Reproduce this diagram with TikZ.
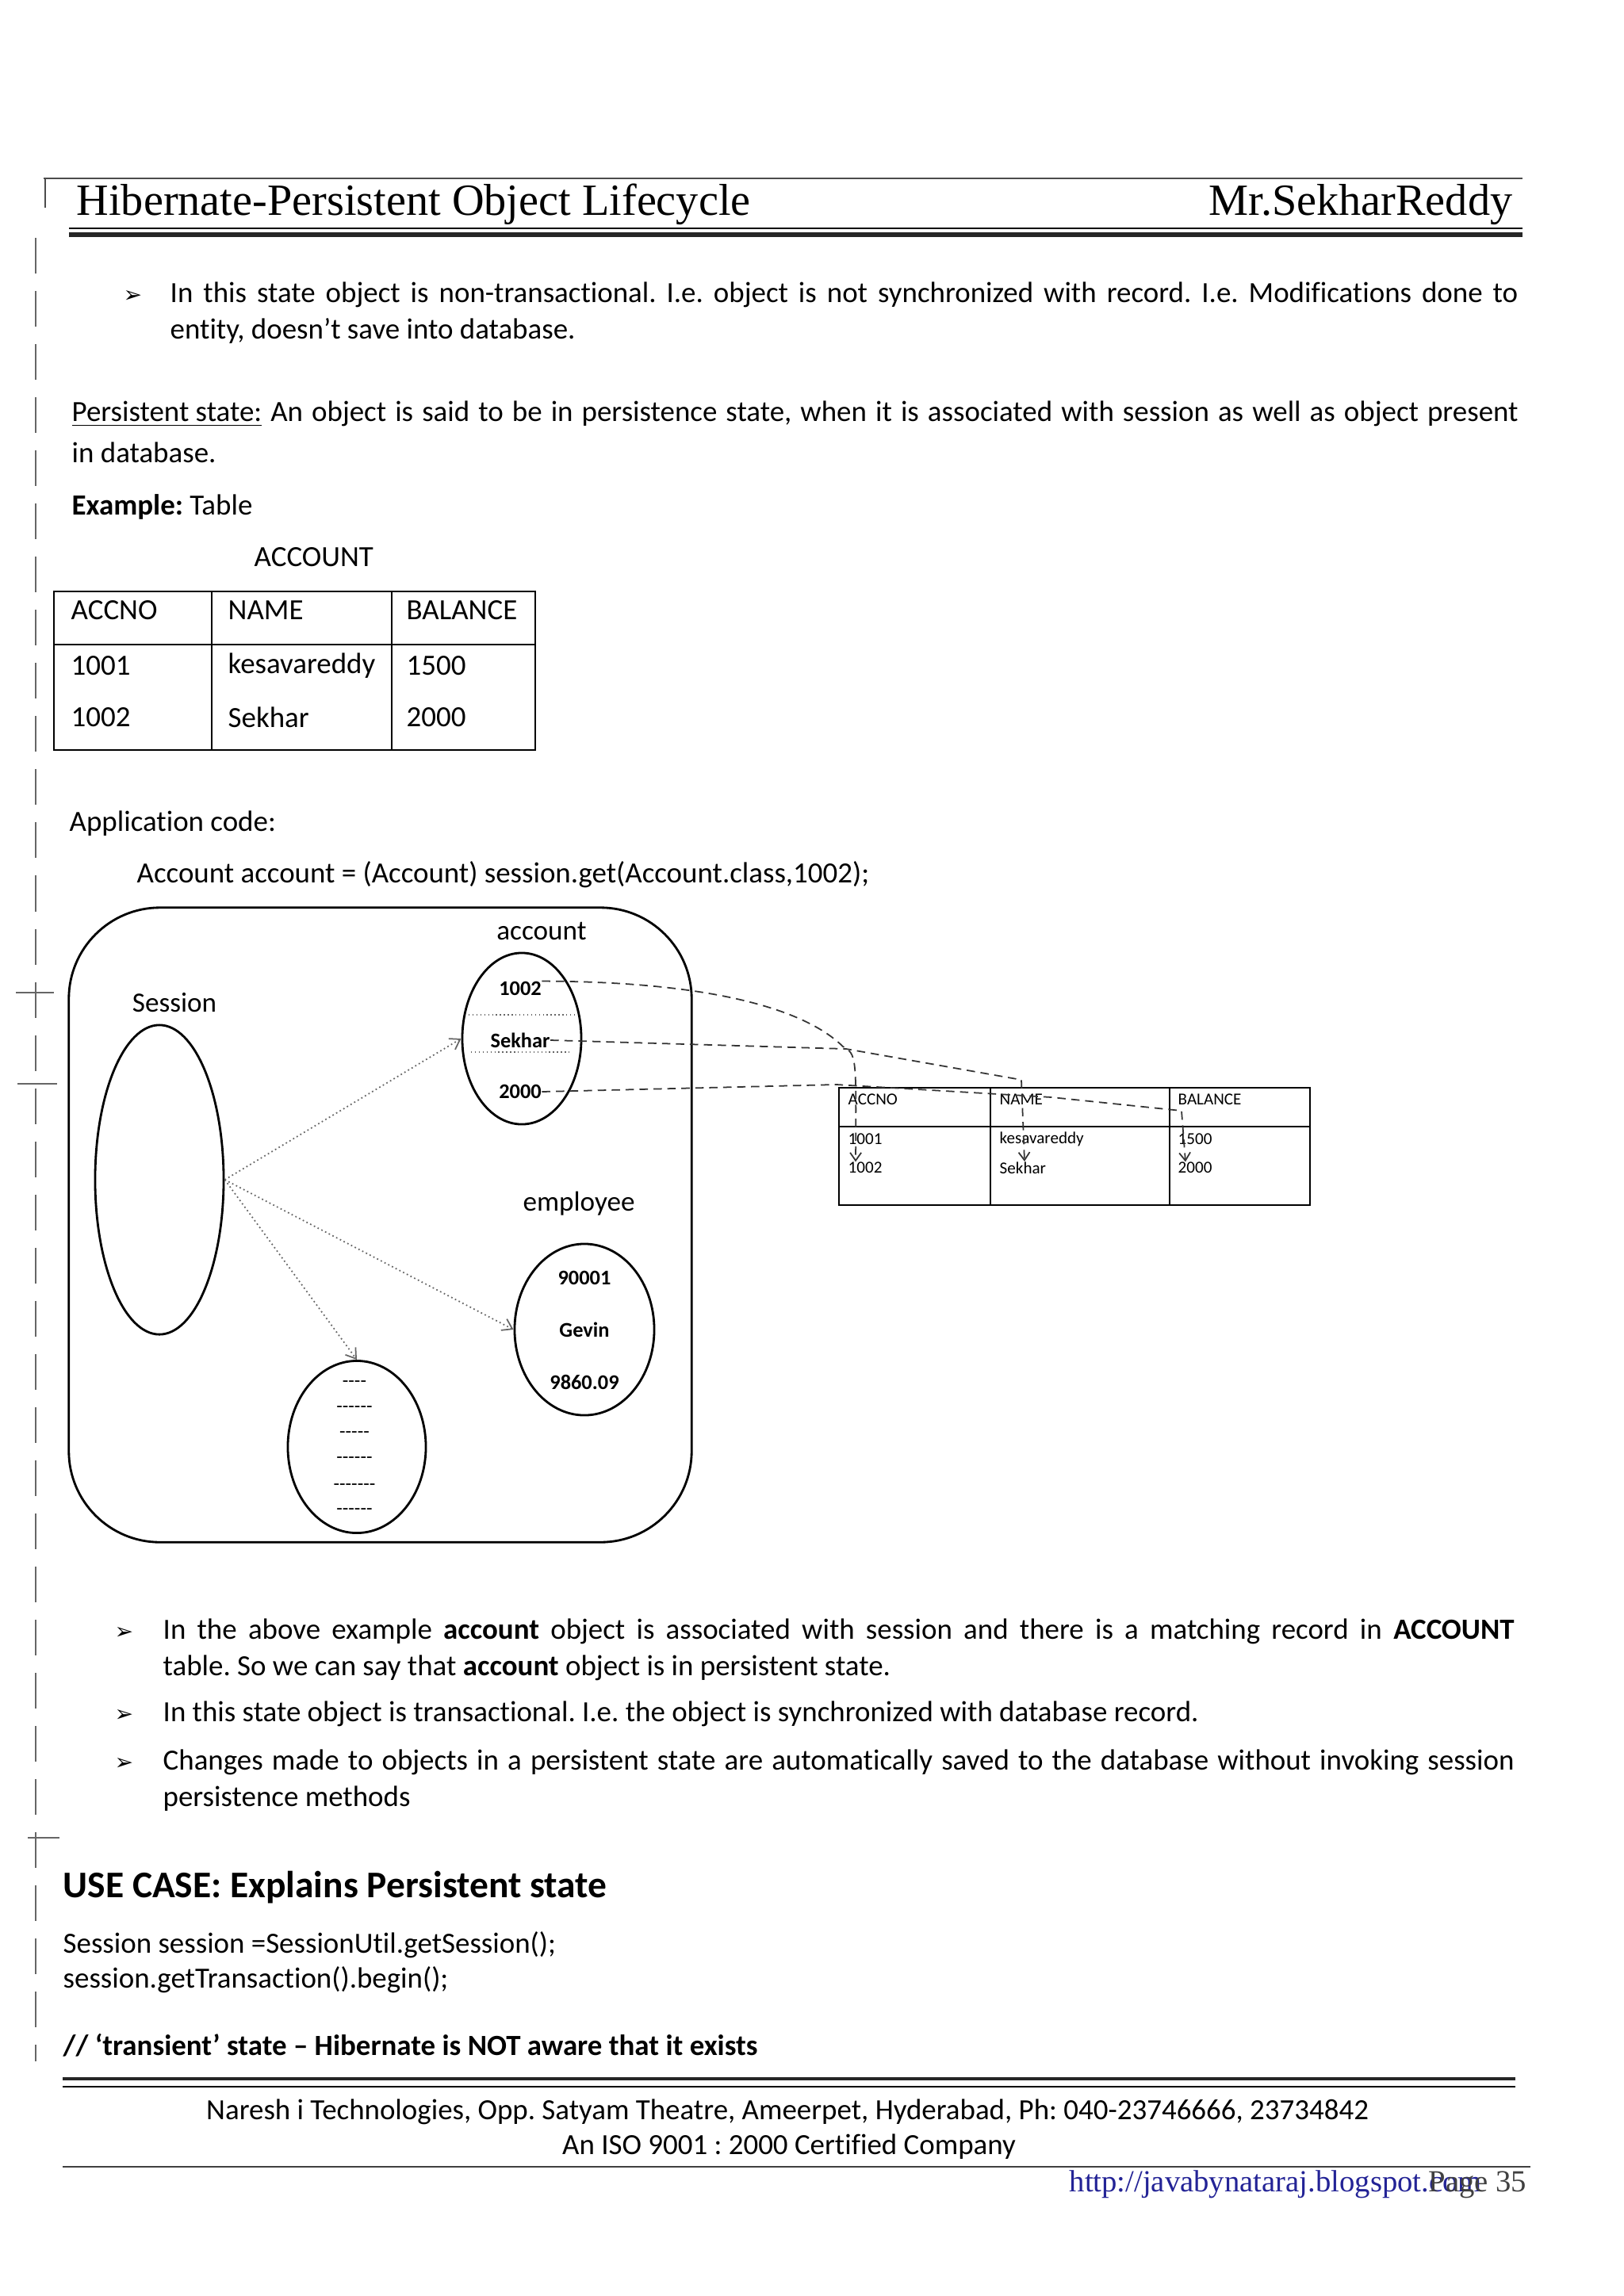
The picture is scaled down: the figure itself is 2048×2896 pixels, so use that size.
\documentclass[tikz,border=0pt]{standalone}
\usepackage{fontspec}
\setmainfont{Carlito}[Ligatures=NoCommon]
\newfontfamily\headfont{Liberation Serif}
\newfontfamily\dingfont{DejaVu Sans}
\usetikzlibrary{shapes.geometric,arrows.meta,calc}

\definecolor{linkblue}{RGB}{35,35,150}
\newcommand{\bodysize}{\fontsize{10.5}{13}\selectfont}
\newcommand{\bulletmark}{{\dingfont\fontsize{8}{10}\selectfont ➢}}
\frenchspacing

\begin{document}
\begin{tikzpicture}[
    x=0.01cm, y=-0.01cm,
    every node/.style={inner sep=0pt},
    txt/.style={anchor=base west, font=\bodysize},
    ctxt/.style={anchor=base, font=\bodysize},
    rule/.style={line width=0.6pt},
    obj/.style={ellipse, draw, line width=0.8pt},
    val/.style={font=\fontsize{7.5}{9}\selectfont\bfseries},
    lbl/.style={font=\fontsize{10}{12}\selectfont},
    cell/.style={anchor=west, font=\bodysize},
    tcell/.style={anchor=west, font=\fontsize{6}{7}\selectfont},
    dots/.style={font=\fontsize{7}{8}\selectfont},
    sesslink/.style={densely dotted, black!60, line width=0.5pt, -{Straight Barb[length=0.12cm, width=0.16cm]}},
    rowlink/.style={densely dashed, black!80, line width=0.5pt, -{Straight Barb[length=0.1cm, width=0.14cm]}}
]
\fill[white] (0,0) rectangle (2048,2896);
\useasboundingbox (0,0) rectangle (2048,2896);

% left margin marks of the scan
\draw[black!60, line width=0.5pt, dash pattern=on 0.45cm off 0.22cm] (45,300) -- (45,2600);
\draw[black!60, line width=0.4pt] (20,1252) -- (68,1252);
\draw[black!60, line width=0.4pt] (22,1367) -- (72,1367);
\draw[black!60, line width=0.4pt] (35,2318) -- (75,2318);

% header
\draw[black!70, line width=0.4pt] (55,225) -- (1920,225);
\draw[black!70, line width=0.4pt] (57,225) -- (57,262);
\node[anchor=base west, font=\headfont\fontsize{16}{18}\selectfont] (title) at (96,271) {Hibernate-Persistent Object Lifecycle};
\node[anchor=base east, font=\headfont\fontsize{16}{18}\selectfont] (author) at (1908,271) {Mr.SekharReddy};
\draw[line width=0.4pt] (87,288) -- (1920,288);
\draw[line width=1.6pt, black!85] (87,296) -- (1920,296);

% text above the diagram
\node[txt] (b1) at (155,381) {\bulletmark};
\node[txt] (p1a) at (214,381) {\makebox[16.99cm][s]{In this state object is non-transactional. I.e. object is not synchronized with record. I.e. Modifications done to}};
\node[txt] (p1b) at (214,427) {entity, doesn’t save into database.};
\node[txt] (p2a) at (90,531) {\makebox[18.23cm][s]{\underline{Persistent state:} An object is said to be in persistence state, when it is associated with session as well as object present}};
\node[txt] (p2b) at (90,583) {in database.};
\node[txt] (ex) at (90,649) {\textbf{Example:} Table};
\node[txt] (acctitle) at (320,714) {ACCOUNT};

% ACCOUNT table
\draw[rule] (68,746) rectangle (675,946);
\draw[rule] (68,813) -- (675,813);
\draw[rule] (267,746) -- (267,946);
\draw[rule] (494,746) -- (494,946);
\node[cell] (h1) at (89,770) {ACCNO};
\node[cell] (h2) at (287,770) {NAME};
\node[cell] (h3) at (512,770) {BALANCE};
\node[cell] (c11) at (89,840) {1001};
\node[cell] (c12) at (287,840) {kesavareddy};
\node[cell] (c13) at (512,840) {1500};
\node[cell] (c21) at (89,905) {1002};
\node[cell] (c22) at (287,905) {Sekhar};
\node[cell] (c23) at (512,905) {2000};

\node[txt] (appcode) at (87,1048) {Application code:};
\node[txt] (getcall) at (172,1113) {Account account = (Account) session.get(Account.class,1002);};

% session box
\node[draw, line width=0.8pt, rounded corners=1.15cm, minimum width=7.85cm, minimum height=8cm] (sessbox) at (479.5,1545) {};
\node[lbl] (sesslbl) at (220,1265) {Session};
\node[obj, minimum width=1.62cm, minimum height=3.9cm] (sess) at (201,1488) {};

% account object
\node[lbl] (acclbl) at (683,1174) {account};
\node[obj, minimum width=1.5cm, minimum height=2.16cm] (acc) at (658,1310) {};
\node[val] (v1002) at (656,1247) {1002};
\node[val] (vsek) at (656,1312) {Sekhar};
\node[val] (v2000) at (656,1377) {2000};
\draw[densely dotted, black!60] ($(acc.center)+(-67,-30)$) -- ($(acc.center)+(69,-30)$);
\draw[densely dotted, black!60] ($(acc.center)+(-64,17)$) -- ($(acc.center)+(60,17)$);

% employee object
\node[lbl] (emplbl) at (730,1518) {employee};
\node[obj, minimum width=1.76cm, minimum height=2.16cm] (emp) at (737,1677) {};
\node[val] (e1) at (737,1612) {90001};
\node[val] (e2) at (737,1677) {Gevin};
\node[val] (e3) at (737,1743) {9860.09};

% unnamed object
\node[obj, minimum width=1.74cm, minimum height=2.17cm] (other) at (450,1825) {};
\node[dots] (d1) at (447,1746) {-{}-{}-{}-};
\node[dots] (d2) at (447,1778) {-{}-{}-{}-{}-{}-};
\node[dots] (d3) at (447,1810) {-{}-{}-{}-{}-};
\node[dots] (d4) at (447,1842) {-{}-{}-{}-{}-{}-};
\node[dots] (d5) at (447,1876) {-{}-{}-{}-{}-{}-{}-};
\node[dots] (d6) at (447,1907) {-{}-{}-{}-{}-{}-};

\draw[sesslink] (sess.east) -- (acc.west);
\draw[sesslink] (sess.east) -- (emp.west);
\draw[sesslink] (sess.east) -- (other.north);

% database table
\draw[rule] (1058,1372) rectangle (1652,1520);
\draw[rule] (1058,1421) -- (1652,1421);
\draw[rule] (1249,1372) -- (1249,1520);
\draw[rule] (1475,1372) -- (1475,1520);
\node[tcell] (th1) at (1069,1387) {ACCNO};
\node[tcell] (th2) at (1260,1387) {NAME};
\node[tcell] (th3) at (1485,1387) {BALANCE};
\node[tcell] (r1a) at (1069,1437) {1001};
\node[tcell] (r1b) at (1260,1437) {kesavareddy};
\node[tcell] (r1c) at (1485,1437) {1500};
\node[tcell] (r2a) at (1069,1473) {1002};
\node[tcell] (r2b) at (1260,1473) {Sekhar};
\node[tcell] (r2c) at (1485,1473) {2000};

% object fields to columns
\draw[rowlink] (v1002.north east) .. controls (880,1238) and (1010,1268) .. (1063,1320) .. controls (1080,1330) .. ($(r2a.north west)+(10,0)$);
\draw[rowlink] (vsek.east) -- (1067,1323) -- (1288,1362) -- ($(r2b.north west)+(32,0)$);
\draw[rowlink] (v2000.east) -- (1055,1368) -- (1326,1384) -- (1490,1401) -- ($(r2c.north west)+(10,0)$);

% text below the diagram
\node[txt] (b2) at (144,2067) {\bulletmark};
\node[txt] (q1a) at (205,2067) {\makebox[17.03cm][s]{In the above example \textbf{account} object is associated with session and there is a matching record in \textbf{ACCOUNT}}};
\node[txt] (q1b) at (205,2113) {table. So we can say that \textbf{account} object is in persistent state.};
\node[txt] (b3) at (144,2171) {\bulletmark};
\node[txt] (q2) at (205,2171) {In this state object is transactional. I.e. the object is synchronized with database record.};
\node[txt] (b4) at (144,2232) {\bulletmark};
\node[txt] (q3a) at (205,2232) {\makebox[17.03cm][s]{Changes made to objects in a persistent state are automatically saved to the database without invoking session}};
\node[txt] (q3b) at (205,2278) {persistence methods};

\node[anchor=base west, font=\fontsize{13.5}{16}\selectfont\bfseries] (usecase) at (79,2393) {USE CASE: Explains Persistent state};
\node[txt] (code1) at (79,2463) {Session session =SessionUtil.getSession();};
\node[txt] (code2) at (79,2507) {session.getTransaction().begin();};
\node[txt, font=\bodysize\bfseries] (code3) at (79,2592) {// ‘transient’ state – Hibernate is NOT aware that it exists};

% footer
\draw[line width=1.4pt, black!85] (79,2622) -- (1911,2622);
\draw[line width=0.5pt] (79,2632) -- (1911,2632);
\node[ctxt] (addr) at (993,2673) {Naresh i Technologies, Opp. Satyam Theatre, Ameerpet, Hyderabad, Ph: 040-23746666, 23734842};
\node[ctxt] (iso) at (995,2717) {An ISO 9001 : 2000 Certified Company};
\draw[line width=0.5pt, black!75] (79,2733) -- (1930,2733);
\node[anchor=base west, font=\headfont\fontsize{11}{13}\selectfont, text=linkblue] (url) at (1348,2764) {http://javabynataraj.blogspot.com};
\node[anchor=base east, font=\headfont\fontsize{11}{13}\selectfont, text=black!75] (pg) at (1926,2764) {Page 35};
\end{tikzpicture}
\end{document}
